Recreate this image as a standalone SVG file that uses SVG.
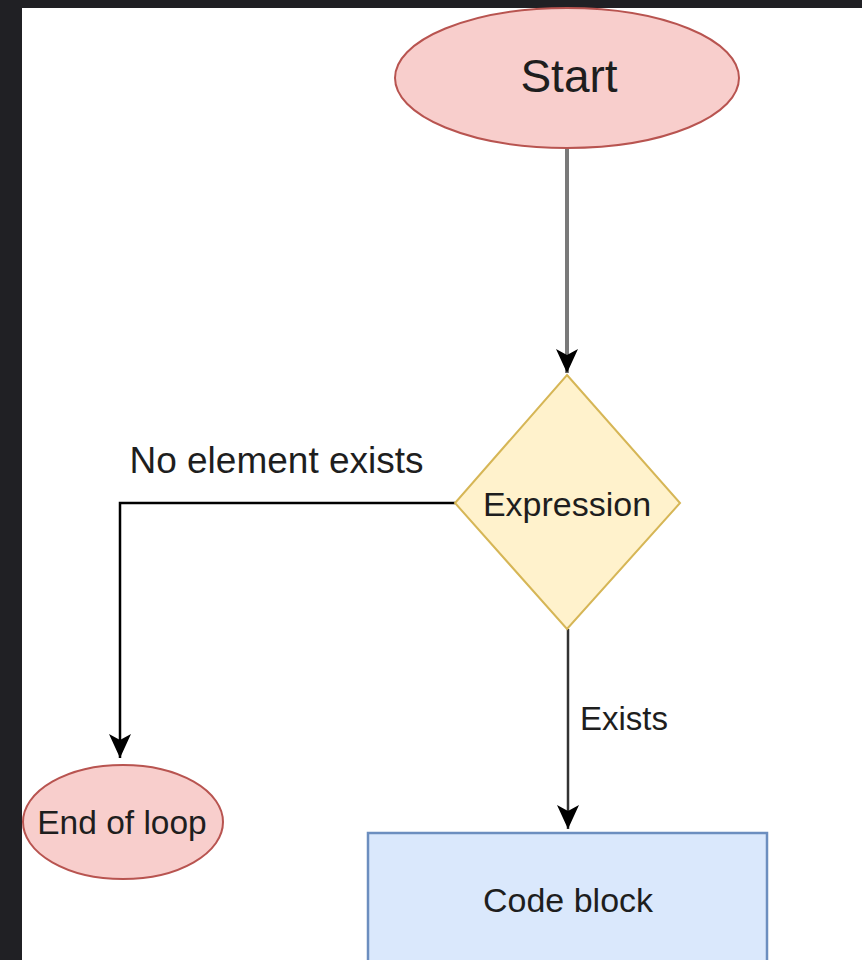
<svg xmlns="http://www.w3.org/2000/svg" width="862" height="960" viewBox="0 0 862 960">
  <style>
    .lbl { font-family: "Liberation Sans", Arial, sans-serif; fill: #1e1e1e; }
    .term { fill: #f8cecc; stroke: #b85450; stroke-width: 2; }
    .dec { fill: #fff2cc; stroke: #d6b656; stroke-width: 2; }
    .proc { fill: #dae8fc; stroke: #6c8ebf; stroke-width: 2.5; }
    .edge { fill: none; stroke-width: 2.5; }
    .edge.thick { stroke-width: 4; }
  </style>
  <defs>
    <marker id="arrow" viewBox="0 0 24 22" refX="24" refY="11" markerWidth="24" markerHeight="22" markerUnits="userSpaceOnUse" orient="auto">
      <path d="M0,0 L24,11 L0,22 L6,11 Z" fill="#000"/>
    </marker>
  </defs>

  <!-- frame and canvas -->
  <rect x="0" y="0" width="862" height="960" fill="#202024"/>
  <rect x="22" y="8" width="840" height="952" fill="#ffffff"/>

  <!-- connectors -->
  <g id="connectors">
    <line class="edge thick" x1="567" y1="149" x2="567" y2="373" stroke="#7a7a7a" marker-end="url(#arrow)"/>
    <polyline class="edge" points="455,503 120,503 120,758" stroke="#000" marker-end="url(#arrow)"/>
    <text class="lbl" x="276.5" y="473" font-size="37" text-anchor="middle">No element exists</text>
    <line class="edge" x1="568" y1="629" x2="568" y2="829" stroke="#333" marker-end="url(#arrow)"/>
    <text class="lbl" x="580" y="730" font-size="33">Exists</text>
  </g>

  <g id="start">
    <ellipse class="term" cx="567" cy="78" rx="172" ry="70"/>
    <text class="lbl" x="569" y="92" font-size="46" text-anchor="middle">Start</text>
  </g>

  <g id="expression">
    <polygon class="dec" points="567,375 680,503 567,629 455,503"/>
    <text class="lbl" x="567" y="516" font-size="34" text-anchor="middle">Expression</text>
  </g>

  <g id="end-of-loop">
    <ellipse class="term" cx="123" cy="822" rx="100" ry="57"/>
    <text class="lbl" x="122" y="834" font-size="33.5" text-anchor="middle">End of loop</text>
  </g>

  <g id="code-block">
    <rect class="proc" x="368" y="833" width="399" height="140"/>
    <text class="lbl" x="568" y="912" font-size="34" text-anchor="middle">Code block</text>
  </g>
</svg>
